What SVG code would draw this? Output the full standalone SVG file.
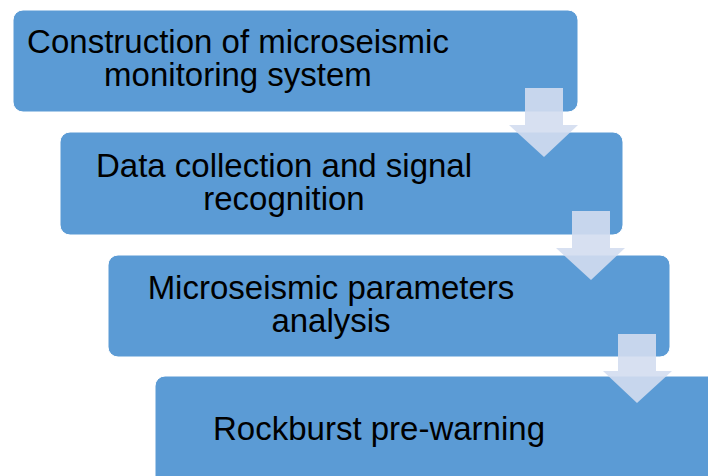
<svg xmlns="http://www.w3.org/2000/svg" width="708" height="476" viewBox="0 0 708 476">
<style>
.box{fill:#5B9BD5;stroke:#FFFFFF;stroke-width:1}
.lbl{font-family:"Liberation Sans",Arial,sans-serif;font-size:33px;fill:#000000;text-anchor:middle}
.arr{fill:#D3DDEF;fill-opacity:0.9}
</style>
<rect width="708" height="476" fill="#FFFFFF"/>
<g id="node1">
<rect class="box" x="13" y="10" width="565" height="102" rx="10"/>
<text class="lbl" x="238" y="53">Construction of microseismic</text>
<text class="lbl" x="238" y="86">monitoring system</text>
</g>
<g id="node2">
<rect class="box" x="60" y="132" width="563" height="103" rx="10"/>
<text class="lbl" x="284" y="177">Data collection and signal</text>
<text class="lbl" x="284" y="210">recognition</text>
</g>
<g id="node3">
<rect class="box" x="108" y="255" width="562" height="102" rx="10"/>
<text class="lbl" x="331" y="299">Microseismic parameters</text>
<text class="lbl" x="331" y="332">analysis</text>
</g>
<g id="node4">
<rect class="box" x="155" y="376" width="565" height="110" rx="10"/>
<text class="lbl" x="379" y="440">Rockburst pre-warning</text>
</g>
<g id="connectors">
<polygon class="arr" points="525,88 563,88 563,125 578,125 544,157 509,125 525,125"/>
<polygon class="arr" points="572,211 610,211 610,248 625,248 591,280 556,248 572,248"/>
<polygon class="arr" points="618,334 656,334 656,371 672,371 637,403 603,371 618,371"/>
</g>
</svg>
